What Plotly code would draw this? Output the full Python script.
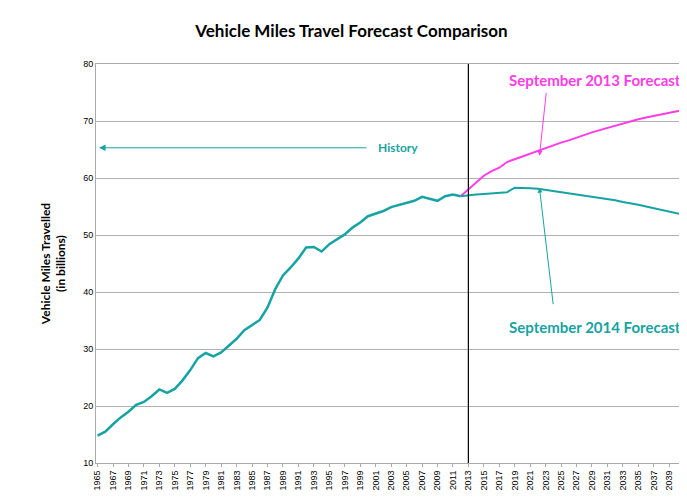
import plotly.graph_objects as go

hist_years = list(range(1965, 2013))
hist_vmt = [14.8, 15.5, 16.8, 18.0, 19.0, 20.2, 20.7, 21.7, 22.9, 22.3,
            23.0, 24.5, 26.3, 28.4, 29.3, 28.7, 29.4, 30.6, 31.8, 33.3,
            34.2, 35.1, 37.3, 40.5, 42.9, 44.3, 45.9, 47.8, 47.9, 47.1,
            48.4, 49.2, 50.1, 51.3, 52.2, 53.3, 53.8, 54.2, 54.9, 55.3,
            55.6, 56.0, 56.7, 56.3, 56.0, 56.8, 57.1, 56.8]

fc_years = list(range(2012, 2042))
fc2013 = [56.8, 58.0, 59.3, 60.4, 61.2, 61.8, 62.8, 63.3, 63.8, 64.3,
          64.8, 65.2, 65.7, 66.2, 66.6, 67.1, 67.5, 68.0, 68.4, 68.8,
          69.2, 69.6, 70.0, 70.3, 70.6, 70.9, 71.2, 71.5, 71.7, 71.9]
fc2014 = [56.8, 57.0, 57.1, 57.2, 57.3, 57.4, 57.5, 58.3, 58.3, 58.2,
          58.1, 57.9, 57.8, 57.6, 57.4, 57.2, 57.0, 56.8, 56.6, 56.3,
          56.1, 55.8, 55.6, 55.3, 55.0, 54.7, 54.4, 54.1, 53.8, 53.5]

teal = "#17a3a3"
pink = "#ff3ce6"

fig = go.Figure()
fig.add_trace(go.Scatter(x=fc_years, y=fc2013, mode="lines", line=dict(color=pink, width=2)))
fig.add_trace(go.Scatter(x=fc_years, y=fc2014, mode="lines", line=dict(color=teal, width=2)))
fig.add_trace(go.Scatter(x=hist_years, y=hist_vmt, mode="lines", line=dict(color=teal, width=2.5)))

fig.add_shape(type="line", x0=2013, x1=2013, y0=10, y1=80, xref="x", yref="y",
              line=dict(color="black", width=1.2))

bold = "Lato"
fig.add_annotation(x=1965.2, y=65.3, ax=2000, ay=65.3, axref="x", ayref="y",
                   showarrow=True, arrowhead=2, arrowsize=1.3, arrowwidth=1, arrowcolor=teal, text="")
fig.add_annotation(x=2001, y=65.3, text="<b>History</b>", showarrow=False, xanchor="left",
                   font=dict(color=teal, size=12, family=bold))
fig.add_annotation(x=2040.8, y=77.2, text="<b>September 2013 Forecast</b>", showarrow=False,
                   xanchor="right", font=dict(color=pink, size=15, family=bold))
fig.add_annotation(x=2022.2, y=63.9, ax=2023.1, ay=75.2, axref="x", ayref="y",
                   showarrow=True, arrowhead=2, arrowwidth=1, arrowcolor=pink, text="")
fig.add_annotation(x=2040.8, y=33.8, text="<b>September 2014 Forecast</b>", showarrow=False,
                   xanchor="right", font=dict(color=teal, size=15, family=bold))
fig.add_annotation(x=2022.2, y=58.3, ax=2024.0, ay=37.6, axref="x", ayref="y",
                   showarrow=True, arrowhead=2, arrowwidth=1, arrowcolor=teal, text="")

fig.update_layout(
    width=687, height=500, showlegend=False,
    plot_bgcolor="white", paper_bgcolor="white",
    margin=dict(l=88, r=8, t=56, b=45),
    title=dict(text="<b>Vehicle Miles Travel Forecast Comparison</b>", x=0.5, xanchor="center",
               y=0.965, font=dict(size=17, family=bold, color="black")),
    font=dict(family="Liberation Sans", color="black"),
)
fig.update_xaxes(range=[1964.8, 2041.3], tickmode="array", tickvals=list(range(1965, 2042, 2)),
                 tickangle=-90, tickfont=dict(size=9), showgrid=False, automargin=False,
                 showline=True, linecolor="#aaaaaa", mirror=True, ticks="outside",
                 ticklen=3, tickcolor="#aaaaaa")
fig.update_yaxes(range=[10, 80], dtick=10, tickfont=dict(size=9), gridcolor="#b0b0b0",
                 showline=True, linecolor="#aaaaaa", mirror=True, automargin=False,
                 title=dict(text="<b>Vehicle Miles Travelled<br>(in billions)</b>",
                            font=dict(size=12, family=bold), standoff=14))

fig.write_html("out.html")
